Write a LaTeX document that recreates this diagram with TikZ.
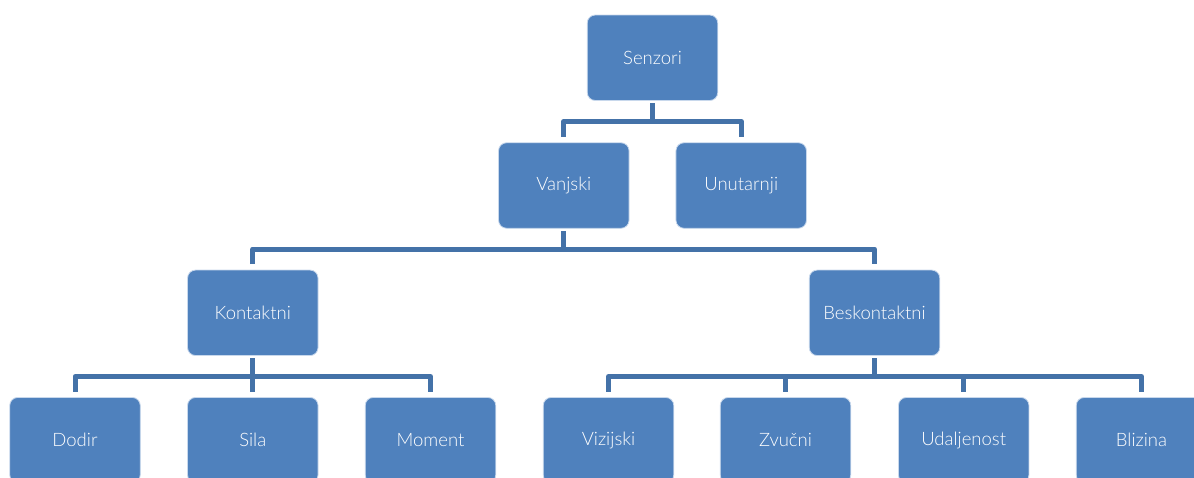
\documentclass[tikz,border=0pt]{standalone}
\usepackage{fontspec}
\setmainfont{Lato Light}
\definecolor{boxfill}{RGB}{79,129,189}
\definecolor{boxline}{RGB}{200,216,236}
\definecolor{connc}{RGB}{68,114,168}
\tikzset{
  sbox/.style={rectangle, rounded corners=8pt, fill=boxfill, draw=boxline, line width=0.8pt,
    minimum width=130.5pt, minimum height=85.5pt, inner sep=0pt, text=white,
    font=\fontsize{18.5}{21}\selectfont},
  conn/.style={draw=connc, line width=5pt, line join=round}
}
\begin{document}
\begin{tikzpicture}[x=1pt,y=-1pt]
\useasboundingbox (0,0) rectangle (1194,477);
\clip (0,0) rectangle (1194,477);
% row 1
\node[sbox] (S) at (652.5,57.75) {Senzori};
% row 2
\node[sbox] (V) at (563.8,185.5) {Vanjski};
\node[sbox] (U) at (741.2,185.5) {Unutarnji};
% row 3
\node[sbox] (K) at (252.8,312.8) {Kontaktni};
\node[sbox] (B) at (874.5,312.8) {Beskontaktni};
% row 4
\node[sbox] (D) at (75,440.2) {Dodir};
\node[sbox] (Si) at (252.8,440.2) {Sila};
\node[sbox] (M) at (430.5,440.2) {Moment};
\node[sbox] (Vi) at (608.5,440.2) {Vizijski};
\node[sbox] (Z) at (785.5,440.2) {Zvučni};
\node[sbox] (Ud) at (963.7,440.2) {Udaljenost};
\node[sbox] (Bl) at (1141.5,440.2) {Blizina};
% bus levels
\coordinate (b1) at (0,121.5);
\coordinate (b2) at (0,249);
\coordinate (b3) at (0,376.5);
% Senzori
\draw[conn] ([yshift=-2.5pt]S.south) -- (S.south |- b1);
\draw[conn] ([yshift=5.5pt]V.north) -- (V.north |- b1) -- (U.north |- b1) -- ([yshift=5.5pt]U.north);
% Vanjski
\draw[conn] ([yshift=-2.5pt]V.south) -- (V.south |- b2);
\draw[conn] ([yshift=5.5pt]K.north) -- (K.north |- b2) -- (B.north |- b2) -- ([yshift=5.5pt]B.north);
% Kontaktni
\draw[conn] ([yshift=-2.5pt]K.south) -- ([yshift=5.5pt]Si.north);
\draw[conn] ([yshift=5.5pt]D.north) -- (D.north |- b3) -- (M.north |- b3) -- ([yshift=5.5pt]M.north);
% Beskontaktni
\draw[conn] ([yshift=-2.5pt]B.south) -- (B.south |- b3);
\draw[conn] ([yshift=5.5pt]Vi.north) -- (Vi.north |- b3) -- (Bl.north |- b3) -- ([yshift=5.5pt]Bl.north);
\draw[conn] ([yshift=5.5pt]Z.north) -- (Z.north |- b3);
\draw[conn] ([yshift=5.5pt]Ud.north) -- (Ud.north |- b3);
\end{tikzpicture}
\end{document}
